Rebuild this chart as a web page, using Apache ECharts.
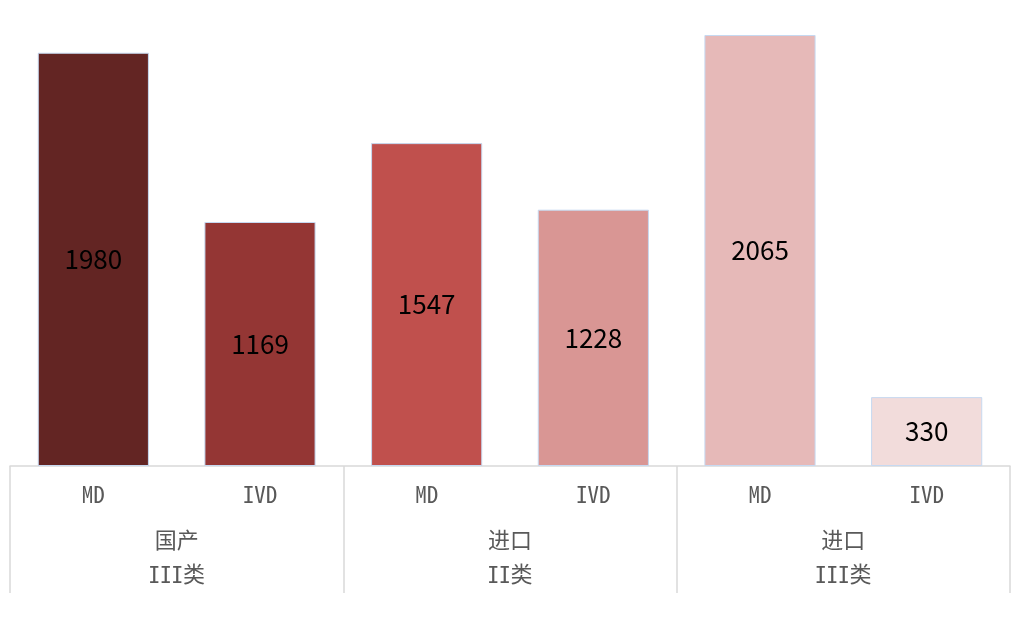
<!DOCTYPE html>
<html>
<head>
<meta charset="utf-8">
<script src="https://cdn.jsdelivr.net/npm/echarts@6/dist/echarts.min.js"></script>
<style>html,body{margin:0;padding:0;background:#fff}#c{width:1018px;height:644px}</style>
</head>
<body>
<div id="c"></div>
<script>
const subCategories = ['MD', 'IVD', 'MD', 'IVD', 'MD', 'IVD'];
const groupCategories = ['国产\nIII类', '进口\nII类', '进口\nIII类'];
const values = [1980, 1169, 1547, 1228, 2065, 330];
const palette = ['#632523', '#943634', '#C0504D', '#D99694', '#E6B9B8', '#F2DCDB'];

const chart = echarts.init(document.getElementById('c'));
const font = '"Noto Sans CJK SC", "DejaVu Sans", sans-serif';
const mono = '"Noto Sans Mono CJK SC", "DejaVu Sans Mono", monospace';

function groupFormatter(v) {
  return v.split('\n').map(line =>
    line.replace(/([A-Za-z]+)|([^A-Za-z]+)/g, (m, lat, cjk) => lat ? '{m|' + lat + '}' : '{c|' + cjk + '}')
  ).join('\n');
}

chart.setOption({
  animation: false,
  backgroundColor: '#ffffff',
  grid: { left: 10, right: 8, top: 35, bottom: 178 },
  xAxis: [
    {
      type: 'category',
      data: subCategories,
      position: 'bottom',
      axisLine: { show: true, lineStyle: { color: '#d9d9d9', width: 1.5 } },
      axisTick: { show: false },
      axisLabel: { color: '#595959', fontSize: 23, fontFamily: mono, margin: 17 }
    },
    {
      type: 'category',
      data: groupCategories,
      position: 'bottom',
      axisLine: { show: false },
      axisTick: { show: true, length: 127, lineStyle: { color: '#d9d9d9', width: 1.5 } },
      axisLabel: {
        color: '#595959', margin: 57,
        formatter: groupFormatter,
        rich: {
          c: { fontSize: 22, fontFamily: font, color: '#595959', lineHeight: 34 },
          m: { fontSize: 23, fontFamily: mono, color: '#595959', lineHeight: 34 }
        }
      }
    }
  ],
  yAxis: {
    type: 'value',
    min: 0,
    max: 2065,
    show: false,
    splitLine: { show: false }
  },
  series: [{
    type: 'bar',
    xAxisIndex: 0,
    barCategoryGap: '33.3%',
    data: values.map((v, i) => ({
      value: v,
      itemStyle: { color: palette[i], borderColor: '#c6d9f1', borderWidth: 1 }
    })),
    label: {
      show: true,
      position: 'inside',
      color: '#000000',
      fontSize: 26,
      fontFamily: font
    }
  }]
});
</script>
</body>
</html>
